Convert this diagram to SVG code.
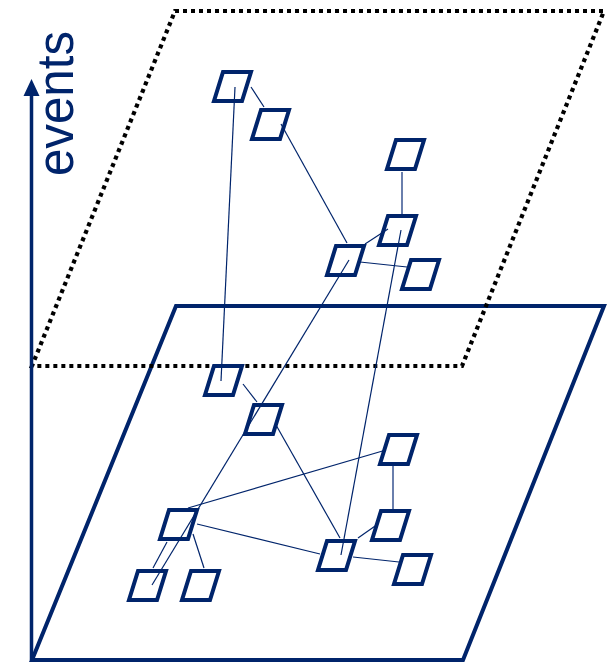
<svg xmlns="http://www.w3.org/2000/svg" width="614" height="662" viewBox="0 0 614 662">
  <style>
    .plane { fill: none; stroke: #00246b; stroke-width: 4; stroke-linejoin: miter; }
    .dotted { fill: none; stroke: #000; stroke-width: 4.2; stroke-dasharray: 4 4; }
    .node { fill: none; stroke: #00246b; stroke-width: 4; stroke-linejoin: miter; }
    .edge { stroke: #00246b; stroke-width: 1.2; fill: none; }
    .link { stroke: #6a7fad; stroke-width: 2; fill: none; }
    .axis { stroke: #00246b; stroke-width: 3.5; fill: none; }
    .label { font-family: "Liberation Sans", Arial, sans-serif; font-size: 52px; fill: #00246b; }
  </style>
  <defs>
    <path id="cell" d="M9,0 H37 L28,29 H0 Z"/>
  </defs>

  <!-- lower layer -->
  <polygon id="layer-lower" class="plane" points="176,306 604,306 463,660 32,660"/>

  <!-- upper layer, dotted outline -->
  <polygon id="layer-upper" class="dotted" points="175,11 604,11 462,366 32,366"/>

  <!-- upper layer nodes -->
  <g id="t1"><use href="#cell" class="node" x="214" y="72"/></g>
  <g id="t2"><use href="#cell" class="node" x="252" y="110"/></g>
  <g id="t3"><use href="#cell" class="node" x="387" y="140"/></g>
  <g id="t4"><use href="#cell" class="node" x="379" y="216"/></g>
  <g id="t5"><use href="#cell" class="node" x="327" y="246"/></g>
  <g id="t6"><use href="#cell" class="node" x="402" y="260"/></g>

  <!-- lower layer nodes -->
  <g id="b1"><use href="#cell" class="node" x="205" y="366"/></g>
  <g id="b2"><use href="#cell" class="node" x="245" y="405"/></g>
  <g id="b3"><use href="#cell" class="node" x="380" y="435"/></g>
  <g id="b4"><use href="#cell" class="node" x="372" y="511"/></g>
  <g id="b5"><use href="#cell" class="node" x="318" y="541"/></g>
  <g id="b6"><use href="#cell" class="node" x="394" y="555"/></g>
  <g id="b7"><use href="#cell" class="node" x="160" y="510"/></g>
  <g id="b8"><use href="#cell" class="node" x="129" y="571"/></g>
  <g id="b9"><use href="#cell" class="node" x="182" y="571"/></g>

  <!-- connectors -->
  <g id="connectors">
    <line class="edge" x1="251" y1="87" x2="264" y2="107"/>
    <line class="edge" x1="281" y1="124" x2="347" y2="243"/>
    <line class="link" x1="402" y1="172" x2="402" y2="214"/>
    <line class="edge" x1="388" y1="229" x2="365" y2="244"/>
    <line class="edge" x1="360" y1="262" x2="407" y2="267"/>

    <line class="edge" x1="235" y1="87" x2="221" y2="381"/>
    <line class="edge" x1="349" y1="260" x2="152" y2="585"/>
    <line class="edge" x1="401" y1="230" x2="341" y2="555"/>

    <line class="edge" x1="243" y1="384" x2="257" y2="402"/>
    <line class="edge" x1="276" y1="425" x2="340" y2="538"/>
    <line class="edge" x1="188" y1="508" x2="386" y2="450"/>
    <line class="edge" x1="197" y1="524" x2="320" y2="554"/>
    <line class="edge" x1="193" y1="534" x2="204" y2="568"/>
    <line class="edge" x1="167" y1="542" x2="153" y2="568"/>
    <line class="link" x1="393" y1="466" x2="393" y2="509"/>
    <line class="edge" x1="378" y1="524" x2="358" y2="538"/>
    <line class="edge" x1="353" y1="557" x2="399" y2="562"/>
  </g>

  <!-- event axis -->
  <g id="axis">
    <line class="axis" x1="31.5" y1="94" x2="31.5" y2="660"/>
    <line class="axis" x1="30" y1="660" x2="463" y2="660"/>
    <polygon points="31.5,79 23.5,96 39.5,96" fill="#00246b"/>
    <text class="label" transform="translate(72.5,176) rotate(-90)" textLength="145" lengthAdjust="spacingAndGlyphs">events</text>
  </g>
</svg>
